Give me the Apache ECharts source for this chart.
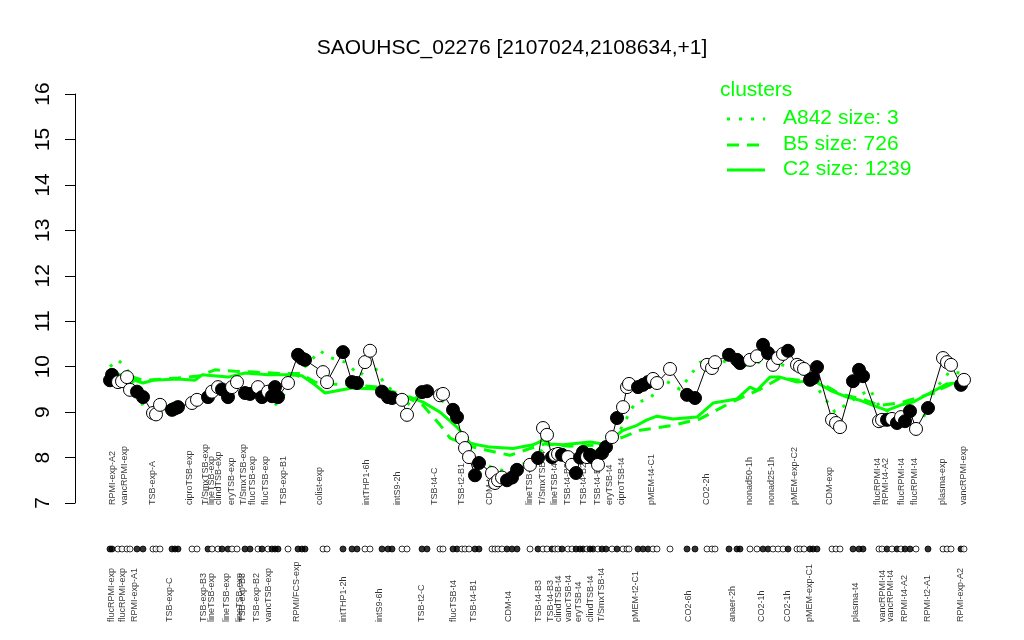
<!DOCTYPE html>
<html><head><meta charset="utf-8">
<script src="https://cdn.jsdelivr.net/npm/echarts@6/dist/echarts.min.js"></script>
<style>html,body{margin:0;padding:0;background:#fff}#c{width:1024px;height:640px}</style>
</head><body><div id="c"></div>
<script>
const chartTitle = 'SAOUHSC_02276 [2107024,2108634,+1]';
const legendTitle = 'clusters';
const clusterNames = ['A842 size: 3', 'B5 size: 726', 'C2 size: 1239'];

// sample positions (axis units), expression values, filled (1) / open (0)
const pointX = [7,7.4,8.6,9.4,10.4,11,12.4,13.6,15.6,16.2,
17,19.4,20,20.6,23.4,24.4,26.6,27.4,28.6,29.4,
30.6,31.4,32.4,34,35,36.6,37.4,38.6,39.4,40,
40.6,42.6,44.6,45.4,46,49.6,50.4,53.6,55.4,56.4,
58,59,61.4,62.6,63.4,65.4,66.4,69.4,70.4,73,
73.6,75.6,76.4,77.4,78,78.8,80,80.8,83.4,84,
84.6,85.4,86.4,87.4,88.4,91,92.6,93.6,94.4,95.4,
96,96.6,97.4,98.6,99.4,100.2,101,101.6,102.4,103,
103.6,104.6,105.4,106.2,107.4,108.4,109.6,110.4,110.8,112.6,
113.6,114.6,115.6,116.4,119,122.4,124,126.4,127.4,128,
130.8,132.4,133,135,136.4,137.6,138.6,139.6,140.6,141.6,
142.6,144.4,145,145.8,147,147.6,148.4,151.4,152.2,153,
155.6,156.8,157.6,160.8,161.4,162.4,163.4,164.4,165.2,166,
167,168.2,170.6,173.6,174.4,175.2,177.2,177.8];
const pointY = [9.70,9.82,9.66,9.68,9.77,9.49,9.45,9.33,8.98,8.95,
9.16,9.05,9.08,9.11,9.20,9.27,9.33,9.45,9.55,9.50,
9.33,9.55,9.66,9.42,9.40,9.55,9.33,9.45,9.35,9.55,
9.33,9.64,10.26,10.18,10.15,9.88,9.66,10.32,9.66,9.64,
10.10,10.35,9.45,9.33,9.31,9.27,8.94,9.44,9.46,9.37,
9.40,9.05,8.89,8.43,8.21,8.01,7.61,7.88,7.66,7.44,
7.50,7.56,7.50,7.56,7.73,7.84,7.99,8.65,8.50,8.01,
8.06,8.08,8.06,8.01,7.84,7.66,8.00,8.12,8.01,8.06,
8.00,7.84,8.10,8.23,8.45,8.87,9.11,9.55,9.62,9.55,
9.60,9.66,9.73,9.64,9.95,9.38,9.31,10.04,9.97,10.10,
10.26,10.15,10.08,10.15,10.23,10.48,10.30,10.04,10.19,10.28,
10.35,10.04,10.00,9.95,9.71,9.75,9.99,8.83,8.76,8.67,
9.68,9.93,9.79,8.80,8.83,8.83,8.85,8.76,8.89,8.80,
9.02,8.63,9.09,10.19,10.10,10.04,9.60,9.71];
const pointFilled = [1,1,0,0,0,0,1,1,0,0,
0,1,1,1,0,0,1,0,0,1,
1,0,0,1,1,0,1,0,1,1,
1,0,1,1,1,0,0,1,1,1,
0,0,1,1,1,0,0,1,1,0,
0,1,1,0,0,0,1,1,0,0,
0,0,1,1,1,0,1,0,0,1,
0,0,1,0,0,1,1,1,0,1,
1,0,1,1,0,1,0,0,0,1,
1,1,0,0,0,1,1,0,0,0,
1,1,1,0,0,1,1,0,0,0,
1,0,0,0,1,1,1,0,0,0,
1,1,1,0,0,1,0,1,0,1,
1,0,1,0,0,0,1,0];

const topLabelX = [7.6,10,15.6,23,26.2,27.4,28.8,31.4,33.8,35.6,38.2,41.8,49,58.4,64.6,72,77.4,83,91,93.6,96,98.6,101.8,104.6,107,109.4,115.4,126.4,135,139.4,144,151,160.6,162.2,165.4,168,173.6,177.8];
const topLabels = ['RPMI-exp-A2','vancRPMI-exp','TSB-exp-A','ciproTSB-exp','T/SmxTSB-exp','lineTSB-exp','clindTSB-exp','eryTSB-exp','T/SmxTSB-exp','flucTSB-exp','flucTSB-exp','TSB-exp-B1','colist-exp','intTHP1-6h','intS9-2h','TSB-t4-C','TSB-t2-B1','CDM-t4','lineTSB-t4','T/SmxTSB-t4','lineTSB-t4','TSB-t4-B2','TSB-t4-B2','TSB-t4-B3','eryTSB-t4','ciproTSB-t4','pMEM-t4-C1','CO2-2h','nonad50-1h','nonad25-1h','pMEM-exp-C2','CDM-exp','flucRPMI-t4','RPMI-t4-A2','flucRPMI-t4','flucRPMI-t4','plasma-exp','vancRPMI-exp'];
const bottomLabelX = [7.4,9.6,12,19,25.8,27.4,30.4,33,33.6,36.4,38.8,44.4,53.8,61,69.4,75.8,79.8,86.8,92.8,95.2,96.8,98.8,100.8,103.2,105.4,112.2,122.8,131.6,137.4,142.6,147,156.2,161.6,163.2,166,170.6,177.2];
const bottomLabels = ['flucRPMI-exp','flucRPMI-exp','RPMI-exp-A1','TSB-exp-C','TSB-exp-B3','lineTSB-exp','lineTSB-exp','lineTSB-exp','TSB-exp-B3','TSB-exp-B2','vancTSB-exp','RPMI/FCS-exp','intTHP1-2h','intS9-6h','TSB-t2-C','flucTSB-t4','TSB-t4-B1','CDM-t4','TSB-t4-B3','TSB-t4-B3','clindTSB-t4','vancTSB-t4','eryTSB-t4','clindTSB-t4','T/SmxTSB-t4','pMEM-t2-C1','CO2-6h','anaer-2h','CO2-1h','CO2-1h','pMEM-exp-C1','plasma-t4','vancRPMI-t4','vancRPMI-t4','RPMI-t4-A2','RPMI-t2-A1','RPMI-exp-A2'];

// cluster mean profiles
const a842X = [7,8.6,10.4,13.6,17,20,25,29,33,37,40,43,46,49,51,54,57,59.4,62,65,67,70,74,77,80,83,86,89,92,94,97,100,103,106,109,112,115,118,121,125,129,133,137,141,145,148,150,152,154,156,159,161,164,167,169,172,175,177.4];
const a842Y = [10.0,10.15,9.95,9.15,9.05,9.1,9.3,9.5,9.55,9.35,9.15,9.55,10.0,10.35,10.2,10.1,9.8,10.1,9.6,9.35,9.15,9.55,9.2,8.6,7.95,7.8,7.7,7.85,7.9,8.3,8.2,8.05,8.1,8.25,8.6,9.2,9.3,9.7,9.5,10.1,10.15,10.0,10.1,10.05,9.95,9.6,9.3,9.0,9.15,9.3,9.5,9.1,8.95,8.9,8.7,9.5,9.9,9.85];
const b5X = [7,10.6,13.6,20.6,25,28,32,36,41,45,48,51,55,61,65,69.6,73,75,79,82.4,87,91,94,99,105,109.6,113,119.6,125,131,137,141,145,149,153,157,161,165,171,175,177.8];
const b5Y = [9.85,9.8,9.7,9.75,9.8,9.93,9.9,9.88,9.85,9.85,9.66,9.62,9.6,9.55,9.4,9.15,8.72,8.43,8.25,8.16,8.05,8.2,8.3,8.25,8.28,8.45,8.6,8.71,8.85,9.2,9.5,9.75,9.7,9.65,9.4,9.3,9.15,9.2,9.4,9.6,9.7];
const c2X = [7,10.6,13.6,15.6,20.6,24,25.4,30.6,34,38.6,42.6,45.4,48,50,55.4,60.6,64,67,69.6,73,76.4,79,80.4,83,87.6,91.6,93.6,95,97.6,103,105.6,107,109.6,112.4,114.4,116.4,119.6,124.4,127.6,132.4,135,136.4,139,141,144.4,147.6,151,154.4,157,159.6,162.4,165,167.6,171,174.4,177.8];
const c2Y = [9.78,9.75,9.64,9.70,9.73,9.70,9.82,9.77,9.86,9.82,9.82,9.80,9.60,9.42,9.53,9.51,9.35,9.33,9.22,9.0,8.67,8.32,8.28,8.23,8.2,8.28,8.38,8.3,8.28,8.34,8.30,8.38,8.6,8.71,8.83,8.91,8.85,8.89,9.2,9.29,9.55,9.48,9.77,9.77,9.66,9.70,9.48,9.33,9.26,9.15,9.04,9.15,9.22,9.42,9.62,9.66];

const FONT = "'Liberation Sans', Arial, Helvetica, sans-serif";
const GREEN = '#00ff00';
const zip = (xs, ys) => xs.map((x, i) => [x, ys[i]]);

const pointData = pointX.map((x, i) => ({
  value: [x, pointY[i]],
  itemStyle: { color: pointFilled[i] ? '#000' : '#fff', borderColor: '#000', borderWidth: 1 }
}));
const dotData = pointX.map((x, i) => ({
  value: [x, 0.5],
  itemStyle: { color: pointFilled[i] ? '#000' : '#fff', borderColor: '#000', borderWidth: 1 }
}));
const topLabelData = topLabelX.map((x, i) => ({ value: [x, 1], name: topLabels[i] }));
const bottomLabelData = bottomLabelX.map((x, i) => ({ value: [x, 0], name: bottomLabels[i] }));

const labelSeries = (data) => ({
  type: 'scatter', xAxisIndex: 2, yAxisIndex: 2, data, symbolSize: 1, clip: false,
  itemStyle: { color: 'rgba(0,0,0,0)' }, silent: true, z: 1,
  label: { show: true, position: 'inside', rotate: 90, align: 'left', verticalAlign: 'middle',
    formatter: '{b}', fontSize: 9, fontFamily: FONT, color: '#000' }
});

const xAx = (g) => ({ gridIndex: g, type: 'value', min: 0, max: 182, show: false });

const chart = echarts.init(document.getElementById('c'), null, { renderer: 'canvas' });
chart.setOption({
  animation: false,
  backgroundColor: '#fff',
  title: { text: chartTitle, left: 'center', top: 33,
    textStyle: { fontSize: 21, fontWeight: 'normal', color: '#000', fontFamily: FONT } },
  grid: [
    { left: 75, width: 910, top: 94, height: 409 },
    { left: 75, width: 910, top: 543, height: 12 },
    { left: 75, width: 910, top: 505, height: 117 }
  ],
  xAxis: [xAx(0), xAx(1), xAx(2)],
  yAxis: [
    { gridIndex: 0, type: 'value', min: 7, max: 16, interval: 1,
      axisLine: { show: true, onZero: false, lineStyle: { color: '#000', width: 1 } },
      axisTick: { show: true, length: 10, lineStyle: { color: '#000', width: 1 } },
      splitLine: { show: false },
      axisLabel: { rotate: 90, margin: 21, fontSize: 21, color: '#000', fontFamily: FONT } },
    { gridIndex: 1, type: 'value', min: 0, max: 1, show: false },
    { gridIndex: 2, type: 'value', min: 0, max: 1, show: false }
  ],
  series: [
    { name: clusterNames[0], type: 'line', data: zip(a842X, a842Y), showSymbol: false, z: 2,
      lineStyle: { color: GREEN, width: 3, type: [3, 9] }, silent: true },
    { name: clusterNames[1], type: 'line', data: zip(b5X, b5Y), showSymbol: false, z: 2,
      lineStyle: { color: GREEN, width: 3, type: [12, 8] }, silent: true },
    { name: clusterNames[2], type: 'line', data: zip(c2X, c2Y), showSymbol: false, z: 2,
      lineStyle: { color: GREEN, width: 3 }, silent: true },
    { type: 'line', data: pointData, symbol: 'circle', symbolSize: 13, showAllSymbol: true, z: 3,
      lineStyle: { color: '#000', width: 1 }, itemStyle: { color: '#000' }, silent: true },
    { type: 'scatter', xAxisIndex: 1, yAxisIndex: 1, data: dotData, symbolSize: 6, silent: true },
    labelSeries(topLabelData),
    labelSeries(bottomLabelData)
  ],
  graphic: [
    { type: 'text', left: 720, top: 80, style: { text: legendTitle, fill: GREEN, font: '21px ' + FONT } },
    { type: 'line', shape: { x1: 727, y1: 119, x2: 765, y2: 119 }, style: { stroke: GREEN, lineWidth: 3, lineDash: [3, 9] } },
    { type: 'text', left: 783, top: 108, style: { text: clusterNames[0], fill: GREEN, font: '21px ' + FONT } },
    { type: 'line', shape: { x1: 727, y1: 145, x2: 765, y2: 145 }, style: { stroke: GREEN, lineWidth: 3, lineDash: [12, 8] } },
    { type: 'text', left: 783, top: 134, style: { text: clusterNames[1], fill: GREEN, font: '21px ' + FONT } },
    { type: 'line', shape: { x1: 727, y1: 170, x2: 765, y2: 170 }, style: { stroke: GREEN, lineWidth: 3 } },
    { type: 'text', left: 783, top: 159, style: { text: clusterNames[2], fill: GREEN, font: '21px ' + FONT } }
  ]
});
</script>
</body></html>
